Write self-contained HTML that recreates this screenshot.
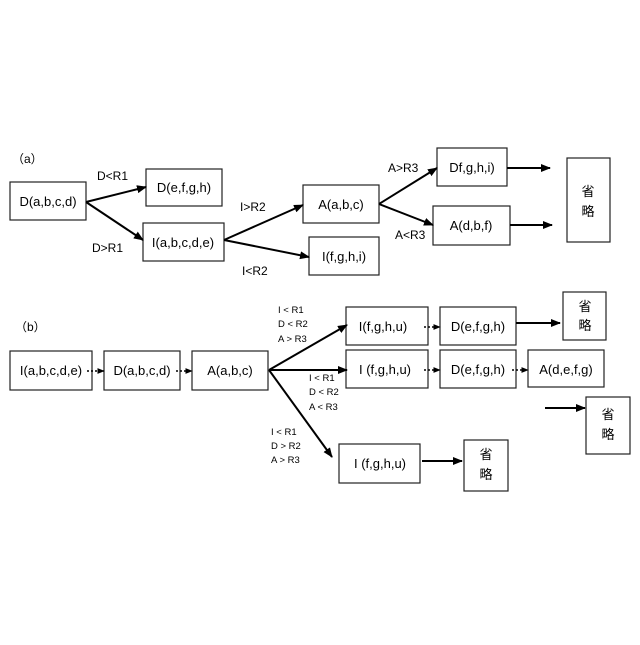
<!DOCTYPE html>
<html><head><meta charset="utf-8"><style>body{margin:0;background:#fff}</style></head><body>
<svg width="640" height="640" viewBox="0 0 640 640" xmlns="http://www.w3.org/2000/svg" font-family="Liberation Sans, Noto Sans CJK JP, sans-serif" fill="#000">
<defs><marker id="a" viewBox="0 0 10 10" refX="9" refY="5" markerWidth="5" markerHeight="5" orient="auto"><path d="M0,1L10,5L0,9z"/></marker></defs>
<g fill="#fff" stroke="#222" stroke-width="1.2">
<rect x="10" y="182" width="76" height="38"/>
<rect x="146" y="169" width="76" height="37"/>
<rect x="143" y="223" width="81" height="38"/>
<rect x="303" y="185" width="76" height="38"/>
<rect x="309" y="237" width="70" height="38"/>
<rect x="437" y="148" width="70" height="38"/>
<rect x="433" y="206" width="77" height="39"/>
<rect x="567" y="158" width="43" height="84"/>
<rect x="10" y="351" width="82" height="39"/>
<rect x="104" y="351" width="76" height="39"/>
<rect x="192" y="351" width="76" height="39"/>
<rect x="346" y="307" width="82" height="38"/>
<rect x="440" y="307" width="76" height="38"/>
<rect x="563" y="292" width="43" height="48"/>
<rect x="346" y="350" width="82" height="38"/>
<rect x="440" y="350" width="76" height="38"/>
<rect x="528" y="350" width="76" height="37"/>
<rect x="586" y="397" width="44" height="57"/>
<rect x="339" y="444" width="81" height="39"/>
<rect x="464" y="440" width="44" height="51"/>
</g>
<g stroke="#000" stroke-width="2" marker-end="url(#a)" fill="none">
<line x1="86" y1="202" x2="146" y2="187"/>
<line x1="86" y1="202" x2="143" y2="240"/>
<line x1="224" y1="240" x2="303" y2="205"/>
<line x1="224" y1="240" x2="309" y2="257"/>
<line x1="379" y1="204" x2="437" y2="168"/>
<line x1="379" y1="204" x2="433" y2="225"/>
<line x1="507" y1="168" x2="550" y2="168"/>
<line x1="510" y1="225" x2="552" y2="225"/>
<line x1="269" y1="370" x2="347" y2="325"/>
<line x1="269" y1="370" x2="347" y2="370"/>
<line x1="269" y1="370" x2="332" y2="457"/>
<line x1="516" y1="323" x2="560" y2="323"/>
<line x1="545" y1="408" x2="585" y2="408"/>
<line x1="422" y1="461" x2="462" y2="461"/>
</g>
<g stroke="#000" stroke-width="1.5" stroke-dasharray="2,2" marker-end="url(#a)" fill="none">
<line x1="87" y1="371" x2="104" y2="371"/>
<line x1="176" y1="371" x2="192" y2="371"/>
<line x1="424" y1="327" x2="440" y2="327"/>
<line x1="424" y1="370" x2="440" y2="370"/>
<line x1="512" y1="370" x2="528" y2="370"/>
</g>
<g font-size="13" text-anchor="middle">
<text x="48" y="206">D(a,b,c,d)</text>
<text x="184" y="192">D(e,f,g,h)</text>
<text x="183" y="247">I(a,b,c,d,e)</text>
<text x="341" y="209">A(a,b,c)</text>
<text x="344" y="261">I(f,g,h,i)</text>
<text x="472" y="172">Df,g,h,i)</text>
<text x="471" y="230">A(d,b,f)</text>
<text x="51" y="375">I(a,b,c,d,e)</text>
<text x="142" y="375">D(a,b,c,d)</text>
<text x="230" y="375">A(a,b,c)</text>
<text x="383" y="331">I(f,g,h,u)</text>
<text x="478" y="331">D(e,f,g,h)</text>
<text x="385" y="374">I (f,g,h,u)</text>
<text x="478" y="374">D(e,f,g,h)</text>
<text x="566" y="374">A(d,e,f,g)</text>
<text x="380" y="468">I (f,g,h,u)</text>
</g>
<g font-size="13" text-anchor="middle">
<text x="588" y="196">省</text><text x="588" y="216">略</text>
<text x="585" y="311">省</text><text x="585" y="330">略</text>
<text x="608" y="419">省</text><text x="608" y="439">略</text>
<text x="486" y="459">省</text><text x="486" y="479">略</text>
</g>
<g font-size="12">
<text x="12" y="163">（a）</text>
<text x="97" y="180">D&lt;R1</text>
<text x="92" y="252">D&gt;R1</text>
<text x="240" y="211">I&gt;R2</text>
<text x="242" y="275">I&lt;R2</text>
<text x="388" y="172">A&gt;R3</text>
<text x="395" y="239">A&lt;R3</text>
<text x="15" y="331">（b）</text>
</g>
<g font-size="9.5">
<text x="278" y="313">I &lt; R1</text><text x="278" y="327">D &lt; R2</text><text x="278" y="342">A &gt; R3</text>
<text x="309" y="381">I &lt; R1</text><text x="309" y="395">D &lt; R2</text><text x="309" y="410">A &lt; R3</text>
<text x="271" y="435">I &lt; R1</text><text x="271" y="449">D &gt; R2</text><text x="271" y="463">A &gt; R3</text>
</g>
</svg>
</body></html>
